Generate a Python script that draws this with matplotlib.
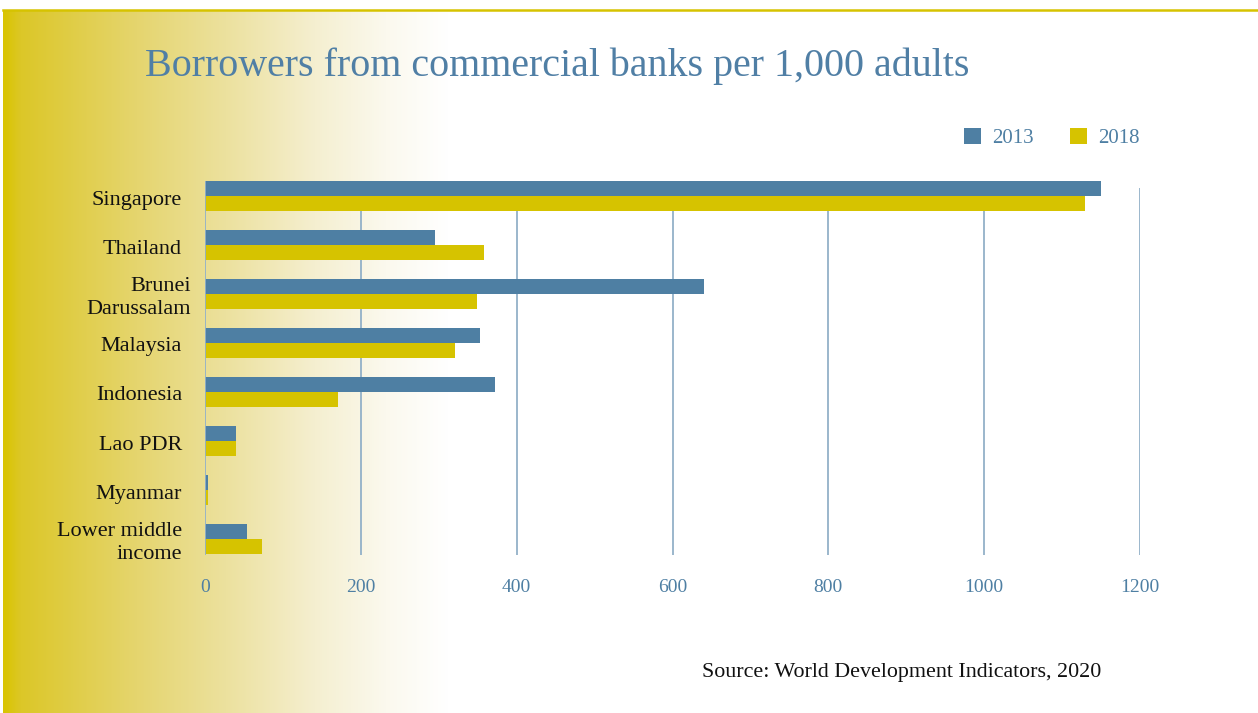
import numpy as np
import matplotlib.pyplot as plt
from matplotlib import transforms

countries = ['Singapore', 'Thailand', 'Brunei\nDarussalam', 'Malaysia',
             'Indonesia', 'Lao PDR', 'Myanmar', 'Lower middle\nincome']
y2013 = [1150, 295, 641, 353, 372, 40, 4, 54]
y2018 = [1130, 358, 349, 321, 171, 40, 4, 73]
xticks = [0, 200, 400, 600, 800, 1000, 1200]

blue = '#4E7FA3'
yellow = '#D6C300'
grid_c = '#93B1C8'
W, H = 1258, 713

plt.rcParams['font.family'] = ['Liberation Serif', 'DejaVu Serif']

fig = plt.figure(figsize=(W / 100, H / 100), dpi=100)
fig.patch.set_facecolor('white')

# left-to-right yellow fade behind everything
stops = [0, 0.04, 0.3, 0.5, 0.7, 0.86, 1.0]
cols = np.array([[217, 196, 0], [220, 199, 40], [229, 213, 110], [236, 225, 158],
                 [245, 239, 208], [251, 249, 238], [255, 255, 255]]) / 255
px = np.arange(1255)
t = np.clip(px / 445, 0, 1)
grad = np.stack([np.interp(t, stops, cols[:, k]) for k in range(3)], axis=1)
bg = fig.add_axes([3 / W, 0, 1 - 3 / W, 1 - 10 / H], zorder=-10)
bg.imshow(grad[None, :, :], aspect='auto', extent=[0, 1, 0, 1])
bg.set_axis_off()
fig.add_artist(plt.Line2D([3 / W, 1], [1 - 10 / H, 1 - 10 / H], color=yellow, lw=1.8))

ax = fig.add_axes([205 / W, 1 - 563.5 / H, 935 / W, 392 / H])
ax.set_facecolor('none')
y = np.arange(len(countries))
h = 0.306
ax.barh(y - h / 2, y2013, height=h, color=blue, label='2013', zorder=3)
ax.barh(y + h / 2, y2018, height=h, color=yellow, label='2018', zorder=3)
ax.vlines(xticks[1:], -0.163, 7.33, color=grid_c, lw=1.3, zorder=1)
ax.vlines(0, -0.3, 7.33, color=grid_c, lw=1.3, zorder=4)
ax.set_xlim(0, 1200)
ax.set_ylim(7.5, -0.5)
for s in ax.spines.values():
    s.set_visible(False)
ax.set_xticks(xticks)
ax.set_xticklabels([str(v) for v in xticks], color=blue, fontsize=14)
ax.tick_params(axis='x', length=0, pad=11)
ax.set_yticks([])

for i, name in enumerate(countries):
    dx = -14 if 'Brunei' in name else -23
    tr = transforms.offset_copy(ax.get_yaxis_transform(), fig, x=dx, y=-4, units='dots')
    ax.text(0, i, name, transform=tr, ha='right', va='center', fontsize=16,
            color='#111111', linespacing=1.3, multialignment='right')

ax.legend(loc='center', bbox_to_anchor=(1052 / W, 1 - 138 / H),
          bbox_transform=fig.transFigure, ncol=2, frameon=False,
          handlelength=0.8, handleheight=0.8, handletextpad=0.55,
          columnspacing=1.75, prop={'size': 15}, labelcolor=blue)

fig.text(145 / W, 1 - 66 / H, 'Borrowers from commercial banks per 1,000 adults',
         fontsize=28.8, color='#507FA5', va='center', ha='left')
fig.text(1101 / W, 1 - 672 / H, 'Source: World Development Indicators, 2020',
         fontsize=15.8, color='#111111', va='center', ha='right')

fig.savefig('out.png', dpi=100)
